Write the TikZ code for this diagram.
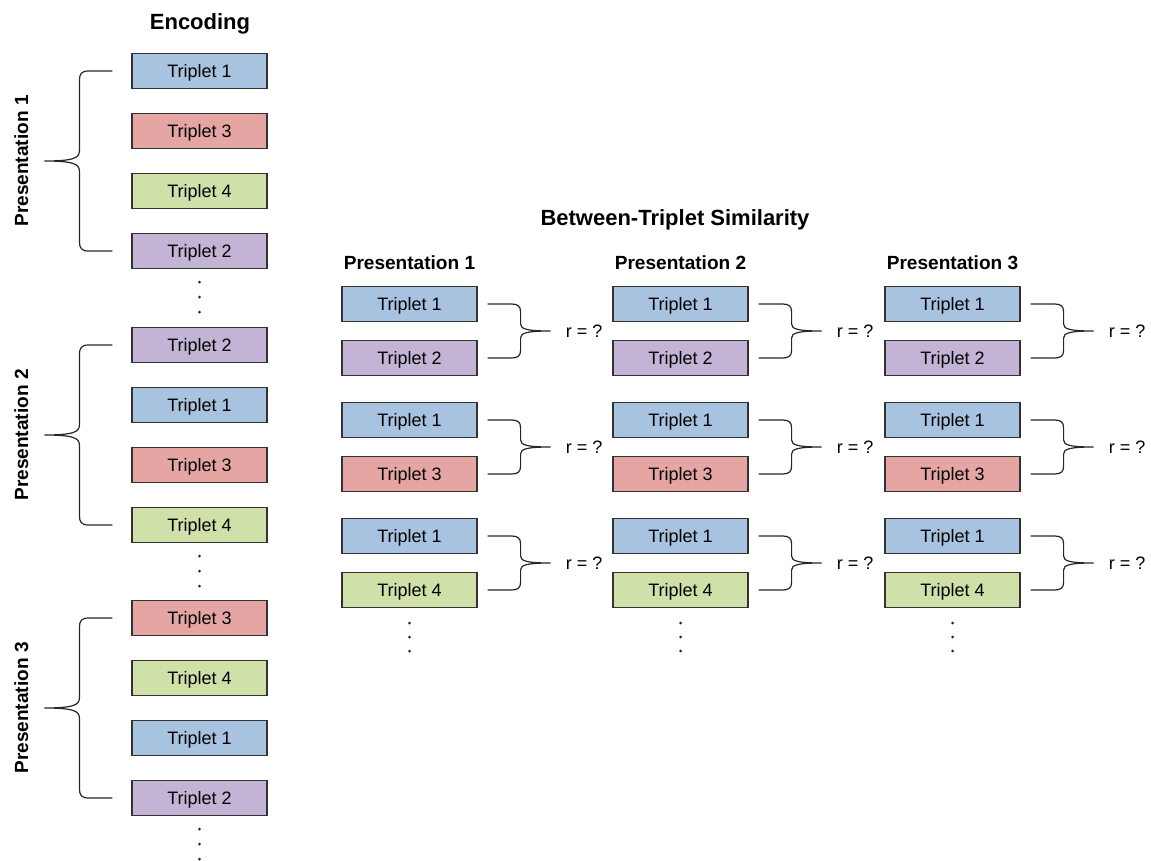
\documentclass[tikz,border=0pt]{standalone}
\usepackage{fontspec}
\setmainfont{Liberation Sans}
\usetikzlibrary{calc}
\definecolor{cblue}{HTML}{A7C3E0}
\definecolor{cred}{HTML}{E5A6A3}
\definecolor{cgreen}{HTML}{D0E0A9}
\definecolor{cpurple}{HTML}{C3B4D6}
\begin{document}
\begin{tikzpicture}[x=0.75pt,y=-0.75pt,
  tbox/.style={draw=black!80,line width=0.9pt,minimum width=101.25pt,minimum height=26.25pt,inner sep=0pt,text height=9.7pt,text depth=0pt,font=\fontsize{13.5}{16}\selectfont},
  title/.style={font=\fontsize{16.5}{20}\selectfont\bfseries,inner sep=0pt,text height=11.8pt,text depth=0pt},
  head/.style={font=\fontsize{14.3}{17}\selectfont\bfseries,inner sep=0pt,text height=10.2pt,text depth=0pt},
  rlabel/.style={font=\fontsize{13.5}{16}\selectfont,inner sep=0pt,anchor=west,text height=9.7pt,text depth=0pt},
  bline/.style={draw=black!85,line width=0.9pt},
  encbrace/.pic={\draw[bline] (68,-90) -- (44,-90) .. controls (37,-90) and (35,-87) .. (35,-80) -- (35,-10) .. controls (35,-3) and (29,0) .. (0,0) .. controls (29,0) and (35,3) .. (35,10) -- (35,80) .. controls (35,87) and (37,90) .. (44,90) -- (68,90);},
  simbrace/.pic={\draw[bline] (-63,-27) -- (-39,-27) .. controls (-33,-27) and (-30,-25) .. (-30,-19) -- (-30,-7) .. controls (-30,-2) and (-24,0) .. (0,0) .. controls (-24,0) and (-30,2) .. (-30,7) -- (-30,19) .. controls (-30,25) and (-33,27) .. (-39,27) -- (-63,27);}
]
\useasboundingbox (0,0) rectangle (1151,860);

% Encoding column
\node[title] (enc) at (200,22) {Encoding};
\foreach \y/\n/\col [count=\k] in {71/1/cblue,131/3/cred,191/4/cgreen,251/2/cpurple,
  345/2/cpurple,405/1/cblue,465/3/cred,525/4/cgreen,
  618/3/cred,678/4/cgreen,738/1/cblue,798/2/cpurple}
  \node[tbox,fill=\col] (e\k) at (199.5,\y) {Triplet \n};

\foreach \a/\b/\p in {1/4/1,5/8/2,9/12/3}{
  \pic at ($(e\a.west)!0.5!(e\b.west)+(-87,0)$) {encbrace};
  \node[head,rotate=90] (pl\p) at ($(e\a.west)!0.5!(e\b.west)+(-110,0)$) {Presentation \p};
  \foreach \d in {31,46,61}
    \fill[black!85] ($(e\b.center)+(0,\d)$) circle (1.5);
}

% Between-triplet similarity
\node[title] (bts) at (675,218) {Between-Triplet Similarity};
\foreach \c/\x in {1/409.5,2/680.5,3/952.5}{
  \node[head] (h\c) at (\x,263) {Presentation \c};
  \foreach \r/\ya/\yb/\n/\col in {1/304/358/2/cpurple,2/420/474/3/cred,3/536/590/4/cgreen}{
    \node[tbox,fill=cblue] (s\c-\r a) at (\x,\ya) {Triplet 1};
    \node[tbox,fill=\col] (s\c-\r b) at (\x,\yb) {Triplet \n};
    \pic at ($(s\c-\r a.east)!0.5!(s\c-\r b.east)+(73,0)$) {simbrace};
    \node[rlabel] (q\c-\r) at ($(s\c-\r a.east)!0.5!(s\c-\r b.east)+(88,0)$) {r = ?};
  }
  \foreach \d in {33,47,61}
    \fill[black!85] ($(s\c-3b.center)+(0,\d)$) circle (1.5);
}
\end{tikzpicture}
\end{document}
